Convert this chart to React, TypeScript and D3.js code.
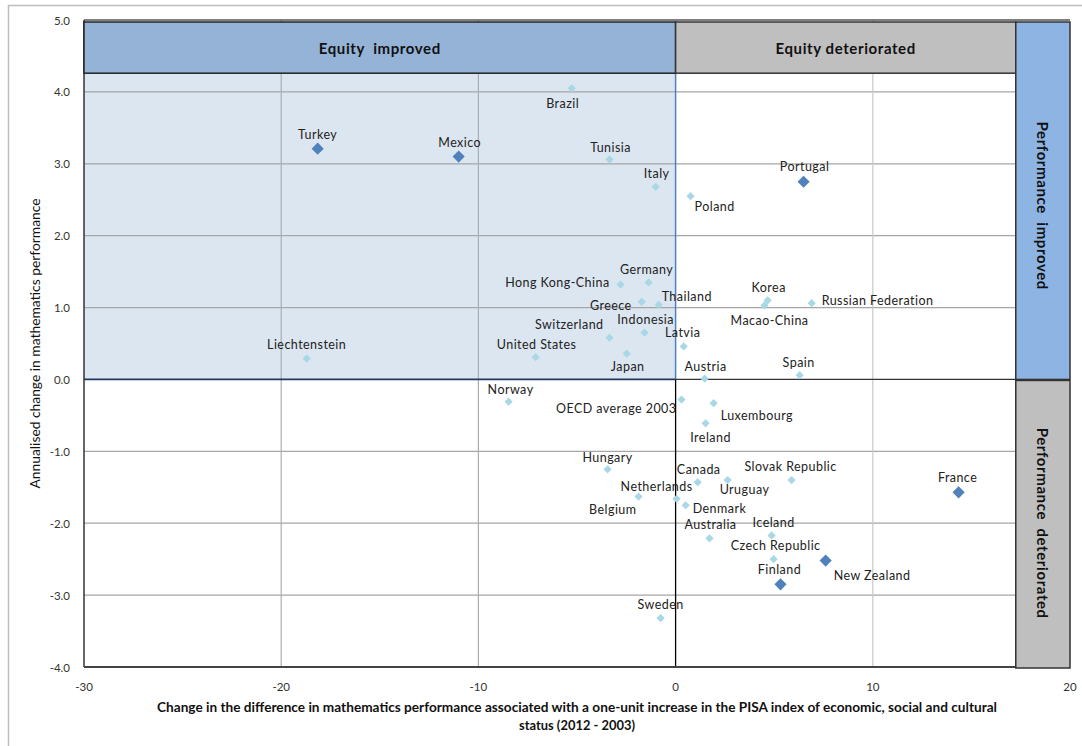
import React from "react";
import * as d3 from "d3";

// ---- data ----
const countries = [
  "Turkey", "Mexico", "Brazil", "Tunisia", "Italy", "Poland", "Portugal",
  "Germany", "Hong Kong-China", "Thailand", "Greece", "Indonesia", "Switzerland",
  "Latvia", "United States", "Japan", "Austria", "Spain", "Korea", "Macao-China",
  "Russian Federation", "Liechtenstein", "Norway", "OECD average 2003", "Luxembourg",
  "Ireland", "Hungary", "Canada", "Uruguay", "Slovak Republic", "Belgium",
  "Netherlands", "Denmark", "Australia", "Iceland", "Czech Republic", "New Zealand",
  "Finland", "Sweden", "France",
];
const equityChange = [
  -18.15, -11.0, -5.27, -3.35, -1.01, 0.76, 6.49,
  -1.37, -2.79, -0.86, -1.72, -1.57, -3.35,
  0.41, -7.1, -2.48, 1.47, 6.29, 4.67, 4.51,
  6.9, -18.71, -8.47, 0.3, 1.93,
  1.52, -3.45, 1.12, 2.64, 5.88, -1.88,
  0.05, 0.51, 1.72, 4.87, 4.97, 7.61,
  5.32, -0.76, 14.35,
];
const perfChange = [
  3.21, 3.1, 4.05, 3.06, 2.68, 2.55, 2.75,
  1.35, 1.32, 1.04, 1.08, 0.65, 0.58,
  0.46, 0.31, 0.36, 0.01, 0.06, 1.1, 1.03,
  1.06, 0.29, -0.31, -0.28, -0.33,
  -0.61, -1.25, -1.43, -1.4, -1.4, -1.63,
  -1.66, -1.75, -2.21, -2.17, -2.5, -2.52,
  -2.85, -3.32, -1.57,
];
const significant = ["Turkey", "Mexico", "Portugal", "France", "New Zealand", "Finland"];
const xTicks = [-30, -20, -10, 0, 10, 20];
const yTicks = [-4, -3, -2, -1, 0, 1, 2, 3, 4, 5];

const xTitle1 =
  "Change in the difference in mathematics performance associated with a one-unit increase in the PISA index of economic, social and cultural";
const xTitle2 = "status (2012 - 2003)";
const yTitle = "Annualised change in mathematics performance";

// label placement (dx, dy, anchor) relative to marker
const labelPlacement: Record<string, [number, number, string]> = {
  Turkey: [0, -14, "middle"], Mexico: [1, -14, "middle"], Brazil: [-9, 15, "middle"],
  Tunisia: [1, -12, "middle"], Italy: [1, -13, "middle"], Poland: [4, 10, "start"],
  Portugal: [1, -15, "middle"], Germany: [-2, -13, "middle"],
  "Hong Kong-China": [-11, -2, "end"], Thailand: [3, -8, "start"], Greece: [-10, 4, "end"],
  Indonesia: [1, -13, "middle"], Switzerland: [-6, -13, "end"], Latvia: [-1, -14, "middle"],
  "United States": [1, -13, "middle"], Japan: [1, 13, "middle"], Austria: [1, -12, "middle"],
  Spain: [-1, -13, "middle"], Korea: [1, -13, "middle"], "Macao-China": [5, 15, "middle"],
  "Russian Federation": [10, -3, "start"], Liechtenstein: [0, -14, "middle"],
  Norway: [2, -12, "middle"], "OECD average 2003": [-5, 9, "end"], Luxembourg: [7, 12, "start"],
  Ireland: [5, 14, "middle"], Hungary: [0, -12, "middle"], Canada: [1, -13, "middle"],
  Uruguay: [-8, 9, "start"], "Slovak Republic": [-1, -14, "middle"], Belgium: [-2, 13, "end"],
  Netherlands: [-20, -12, "middle"], Denmark: [7, 3, "start"], Australia: [1, -14, "middle"],
  Iceland: [2, -13, "middle"], "Czech Republic": [2, -14, "middle"],
  "New Zealand": [8, 15, "start"], Finland: [-1, -15, "middle"], Sweden: [0, -14, "middle"],
  France: [-1, -15, "middle"],
};

const FONT = "Lato, 'Open Sans', 'DejaVu Sans', sans-serif";

export default function App() {
  const W = 1082, H = 746;
  const x = d3.scaleLinear().domain([-30, 20]).range([84, 1070]);
  const y = d3.scaleLinear().domain([-4, 5]).range([667, 20]);
  const overlayX = 17.25; // start of right-hand labelling boxes
  const headerY = 4.26; // bottom of top labelling boxes
  const xr = x(overlayX);

  const lightSym = d3.symbol(d3.symbolSquare, 34)();
  const darkSym = d3.symbol(d3.symbolSquare, 74)();

  const pts = countries.map((c, i) => ({
    name: c, xv: equityChange[i], yv: perfChange[i], sig: significant.includes(c),
  }));

  return (
    <svg width={W} height={H} style={{ position: "absolute", left: 0, top: 0, background: "#fff" }}>
      {/* outer chart border */}
      <rect x={8.5} y={5.5} width={1200} height={900} fill="#fff" stroke="#BDBDBD" strokeWidth={1.5} />

      {/* shaded quadrant */}
      <rect x={x(-30)} y={y(headerY)} width={x(0) - x(-30)} height={y(0) - y(headerY)} fill="#DCE6F1" />

      {/* gridlines */}
      {yTicks.filter((t) => t !== 0 && t !== -4 && t !== 5).map((t) => (
        <line key={"gy" + t} x1={x(-30)} x2={xr} y1={y(t)} y2={y(t)} stroke="#A6A6A6" strokeWidth={1.2} />
      ))}
      {[-20, -10, 10].map((t) => (
        <line key={"gx" + t} x1={x(t)} x2={x(t)} y1={y(5)} y2={y(-4)} stroke={t > 0 ? "#C8C8C8" : "#A9AEB6"} strokeWidth={1.2} />
      ))}

      {/* shaded quadrant border */}
      <line x1={x(0)} x2={x(0)} y1={y(headerY)} y2={y(0)} stroke="#4F81BD" strokeWidth={1.5} />
      <line x1={x(-30)} x2={x(0)} y1={y(0)} y2={y(0)} stroke="#1F3864" strokeWidth={1.8} />
      {/* zero lines */}
      <line x1={x(0)} x2={x(0)} y1={y(0)} y2={y(-4)} stroke="#000" strokeWidth={1.3} />
      <line x1={x(0)} x2={xr} y1={y(0)} y2={y(0)} stroke="#333" strokeWidth={1.3} />

      {/* plot frame */}
      <line x1={x(-30)} x2={x(20)} y1={y(5)} y2={y(5)} stroke="#555" strokeWidth={1.5} />
      <line x1={x(-30)} x2={x(-30)} y1={y(5)} y2={y(-4)} stroke="#333" strokeWidth={1.5} />
      <line x1={x(-30)} x2={xr} y1={y(-4)} y2={y(-4)} stroke="#444" strokeWidth={2} />

      {/* header boxes */}
      <rect x={x(-30)} y={y(5) + 2} width={x(0) - x(-30)} height={y(headerY) - y(5) - 2} fill="#95B3D7" stroke="#222" strokeWidth={1.5} />
      <rect x={x(0)} y={y(5) + 2} width={xr - x(0)} height={y(headerY) - y(5) - 2} fill="#BFBFBF" stroke="#333" strokeWidth={1.5} />
      <text x={(x(-30) + x(0)) / 2} y={(y(5) + 2 + y(headerY)) / 2} textAnchor="middle" dominantBaseline="central"
        fontFamily={FONT} fontWeight="bold" fontSize={15} letterSpacing={0.6} fill="#111" style={{ whiteSpace: "pre" }}>Equity  improved</text>
      <text x={(x(0) + xr) / 2} y={(y(5) + 2 + y(headerY)) / 2} textAnchor="middle" dominantBaseline="central"
        fontFamily={FONT} fontWeight="bold" fontSize={15} letterSpacing={0.6} fill="#111">Equity deteriorated</text>

      {/* right boxes */}
      <rect x={xr} y={y(5) + 2} width={x(20) - xr} height={y(0) - y(5) - 2} fill="#8DB4E2" stroke="#333" strokeWidth={1.5} />
      <rect x={xr} y={y(0) + 1} width={x(20) - xr} height={y(-4) - y(0)} fill="#BFBFBF" stroke="#333" strokeWidth={1.5} />
      <text transform={`translate(${(xr + x(20)) / 2},${(y(5) + y(0)) / 2 + 6}) rotate(90)`} textAnchor="middle" dominantBaseline="central"
        fontFamily={FONT} fontWeight="bold" fontSize={15} letterSpacing={0.6} fill="#111" style={{ whiteSpace: "pre" }}>Performance  improved</text>
      <text transform={`translate(${(xr + x(20)) / 2},${(y(0) + y(-4)) / 2}) rotate(90)`} textAnchor="middle" dominantBaseline="central"
        fontFamily={FONT} fontWeight="bold" fontSize={15} letterSpacing={0.6} fill="#111" style={{ whiteSpace: "pre" }}>Performance  deteriorated</text>

      {/* tick labels */}
      {yTicks.map((t) => (
        <text key={"ty" + t} x={x(-30) - 14} y={y(t)} textAnchor="end" dominantBaseline="central"
          fontFamily={FONT} fontSize={11.5} fill="#333">{t.toFixed(1)}</text>
      ))}
      {xTicks.map((t) => (
        <text key={"tx" + t} x={x(t)} y={686} textAnchor="middle" dominantBaseline="central"
          fontFamily={FONT} fontSize={11.5} fill="#333">{t}</text>
      ))}

      {/* axis titles */}
      <text x={(x(-30) + x(20)) / 2} y={707} textAnchor="middle" dominantBaseline="central"
        fontFamily={FONT} fontWeight="bold" fontSize={12.5} textLength={840} lengthAdjust="spacingAndGlyphs" fill="#111">{xTitle1}</text>
      <text x={(x(-30) + x(20)) / 2} y={725} textAnchor="middle" dominantBaseline="central"
        fontFamily={FONT} fontWeight="bold" fontSize={12.5} textLength={116} lengthAdjust="spacingAndGlyphs" fill="#111">{xTitle2}</text>
      <text transform={`translate(35,${(y(5) + y(-4)) / 2}) rotate(-90)`} textAnchor="middle" dominantBaseline="central"
        fontFamily={FONT} fontSize={12.5} textLength={290} lengthAdjust="spacingAndGlyphs" fill="#111">{yTitle}</text>

      {/* points */}
      {pts.map((p) => (
        <path key={"p" + p.name} d={p.sig ? darkSym! : lightSym!}
          transform={`translate(${x(p.xv)},${y(p.yv)}) rotate(45)`}
          fill={p.sig ? "#4F81BD" : "#A8D8E6"} />
      ))}
      {/* labels */}
      {pts.map((p) => {
        const [dx, dy, anchor] = labelPlacement[p.name] || [0, -14, "middle"];
        return (
          <text key={"l" + p.name} x={x(p.xv) + dx} y={y(p.yv) + dy} textAnchor={anchor as any}
            dominantBaseline="central" fontFamily={FONT} fontSize={12.5} letterSpacing={0.45} fill="#222">{p.name}</text>
        );
      })}
    </svg>
  );
}
